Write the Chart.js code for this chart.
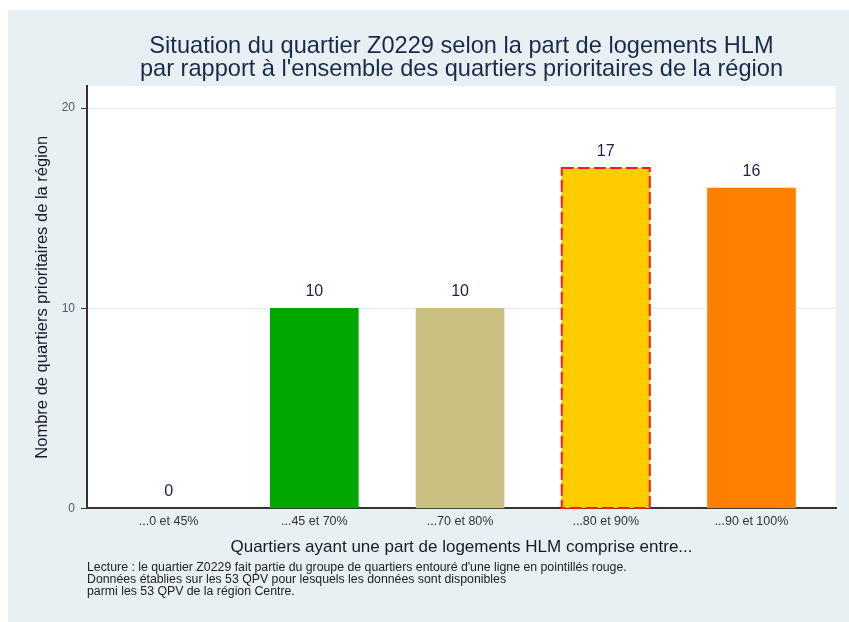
<!DOCTYPE html>
<html>
<head>
<meta charset="utf-8">
<script src="https://cdn.jsdelivr.net/npm/chart.js@4/dist/chart.umd.min.js"></script>
<style>
  html, body { margin:0; padding:0; background:#fff; }
  #box { width:849px; height:622px; }
</style>
</head>
<body>
<div id="box"><canvas id="hlm"></canvas></div>
<script>
// donnees
var classes = ["...0 et 45%", "...45 et 70%", "...70 et 80%", "...80 et 90%", "...90 et 100%"];
var nbQuartiers = [0, 10, 10, 17, 16];
var couleurs = ["rgba(0,0,0,0)", "#00a800", "#c9bf80", "#ffcc00", "#ff7f00"];
var groupeQuartier = 3; // classe du quartier Z0229
var yTicks = [0, 10, 20];

var titre = ["Situation du quartier Z0229 selon la part de logements HLM",
             "par rapport \u00e0 l'ensemble des quartiers prioritaires de la r\u00e9gion"];
var notes = ["Lecture : le quartier Z0229 fait partie du groupe de quartiers entour\u00e9 d'une ligne en pointill\u00e9s rouge.",
             "Donn\u00e9es \u00e9tablies sur les 53 QPV pour lesquels les donn\u00e9es sont disponibles",
             "parmi les 53 QPV de la r\u00e9gion Centre."];

var police = '"Liberation Sans", Arial, sans-serif';

var fond = {
  id: 'fond',
  beforeDraw: function(chart){
    var c = chart.ctx, a = chart.chartArea;
    c.save();
    c.fillStyle = '#ffffff';
    c.fillRect(0, 0, chart.width, chart.height);
    c.fillStyle = '#e8f0f3';
    c.fillRect(8, 10, chart.width - 8, chart.height - 10);
    c.fillStyle = '#ffffff';
    c.fillRect(a.left, a.top, a.right - a.left, a.bottom - a.top);
    c.restore();
  }
};

var etiquettes = {
  id: 'etiquettes',
  afterDatasetsDraw: function(chart){
    var c = chart.ctx;
    var meta = chart.getDatasetMeta(0);
    c.save();
    meta.data.forEach(function(bar, i){
      if (i === groupeQuartier) {
        var p = bar.getProps(['x','y','base','width'], true);
        c.setLineDash([12, 4]);
        c.lineWidth = 2;
        c.strokeStyle = '#ff1a1a';
        c.strokeRect(p.x - p.width/2, p.y, p.width, p.base - p.y);
        c.setLineDash([]);
      }
      c.fillStyle = '#1a2340';
      c.font = '16px ' + police;
      c.textAlign = 'center';
      c.textBaseline = 'bottom';
      c.fillText(String(nbQuartiers[i]), bar.x, bar.y - 9);
    });
    c.restore();
  }
};

var ctx = document.getElementById('hlm').getContext('2d');
var chart = new Chart(ctx, {
  type: 'bar',
  data: {
    datasets: [{
      data: nbQuartiers.map(function(v, i){ return {x: i, y: v}; }),
      backgroundColor: couleurs,
      borderWidth: 0,
      barThickness: 88
    }]
  },
  options: {
    responsive: true,
    maintainAspectRatio: false,
    animation: false,
    layout: { padding: { left: 8, top: 10, right: 13, bottom: 24 } },
    plugins: {
      legend: { display: false },
      tooltip: { enabled: false },
      title: {
        display: true,
        text: titre,
        fullSize: false,
        color: '#1a2a4a',
        font: { family: police, size: 23.6, weight: 'normal', lineHeight: 0.975 },
        padding: { top: 24.5, bottom: 5.5 }
      },
      subtitle: {
        display: true,
        position: 'bottom',
        align: 'start',
        fullSize: false,
        text: notes,
        color: '#222',
        font: { family: police, size: 12.3, lineHeight: 0.98 },
        padding: { top: 2, bottom: 0 }
      }
    },
    scales: {
      x: {
        type: 'linear',
        offset: false,
        min: -0.56,
        max: 4.58,
        grid: { display: false, drawTicks: false, offset: false },
        border: { display: true, color: '#333', width: 2 },
        ticks: {
          stepSize: 1,
          autoSkip: false,
          maxRotation: 0,
          padding: 6,
          color: '#333',
          font: { family: police, size: 12.5 },
          callback: function(v){ return Number.isInteger(v) && classes[v] ? classes[v] : ''; }
        },
        title: {
          display: true,
          text: 'Quartiers ayant une part de logements HLM comprise entre...',
          color: '#1a1a2a',
          font: { family: police, size: 17 },
          padding: { top: 2, bottom: 2 }
        }
      },
      y: {
        min: 0,
        max: 21.1,
        afterFit: function(s){ s.width = 79; },
        grid: {
          color: function(c){ return (c.tick && yTicks.indexOf(c.tick.value) > 0) ? '#e4edf2' : 'transparent'; },
          tickColor: function(c){ return (c.tick && yTicks.indexOf(c.tick.value) >= 0) ? '#333' : 'transparent'; },
          tickLength: 6,
          lineWidth: 1
        },
        border: { display: true, color: '#333', width: 2 },
        ticks: {
          stepSize: 10,
          padding: 6,
          color: '#556',
          font: { family: police, size: 12 },
          callback: function(v){ return yTicks.indexOf(v) >= 0 ? String(v) : ''; }
        },
        title: {
          display: true,
          text: 'Nombre de quartiers prioritaires de la r\u00e9gion',
          color: '#1a1a2a',
          font: { family: police, size: 16.5 },
          padding: { top: 25, bottom: 0 }
        }
      }
    }
  },
  plugins: [fond, etiquettes]
});
</script>
</body>
</html>
